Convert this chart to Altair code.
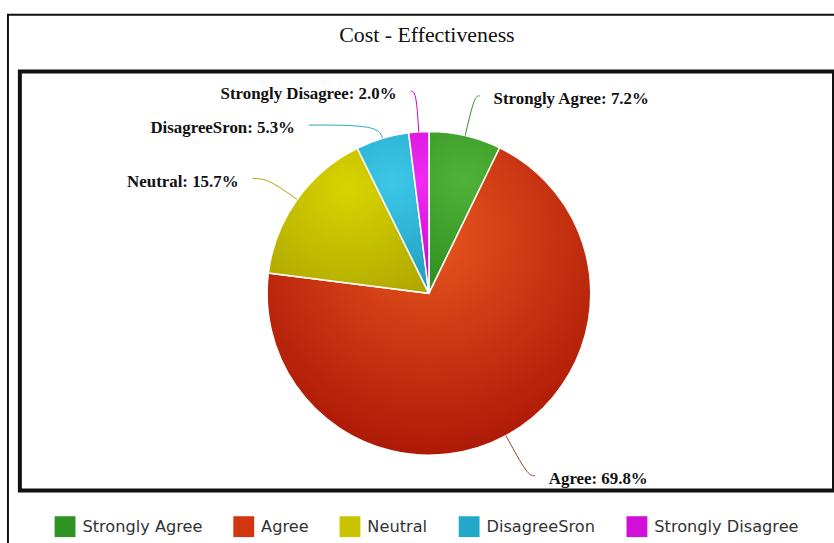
import altair as alt
import pandas as pd

# ---- data ----
categories = ["Strongly Agree", "Agree", "Neutral", "DisagreeSron", "Strongly Disagree"]
percentages = [7.2, 69.8, 15.7, 5.3, 2.0]

# ---- styles ----
legend_colors = ["#2e9323", "#d2360f", "#c9c300", "#22a9c9", "#d10fd9"]
grad_light = ["#4fb238", "#e8561f", "#d8d400", "#3cc8e6", "#f22af2"]
grad_dark = ["#2a8a1b", "#a30e02", "#aea600", "#1c98bc", "#bb00c6"]
conn_colors = ["#3a8a2a", "#a0402a", "#a8a800", "#2aa8c8", "#cc00cc"]

CX, CY, R = 412.0, 223.5, 163.0
LD = R + 38  # label distance from centre
LABEL_NUDGE_DX = {"DisagreeSron": -57, "Neutral": -8, "Agree": 5}
LABEL_NUDGE_DY = {"DisagreeSron": 26, "Agree": 10, "Neutral": 4}


def nudge_expr(d):
    expr = "0"
    for k, v in d.items():
        expr = f"datum.category === '{k}' ? {v} : ({expr})"
    return expr


df = pd.DataFrame({"category": categories, "value": percentages,
                   "order": list(range(len(categories)))})

base = alt.Chart(df).transform_window(
    cum="sum(value)", sort=[alt.SortField("order")], frame=[None, 0]
).transform_calculate(
    start="datum.cum - datum.value",
    mid="datum.cum - datum.value / 2",
)

theta_scale = alt.Scale(domain=[0, 100], range=[0, 6.283185307179586])
arc_enc = dict(
    theta=alt.Theta("start:Q", scale=theta_scale),
    theta2="cum:Q",
    x=alt.value(CX),
    y=alt.value(CY),
)

legend_arc = base.mark_arc(radius=R, stroke="white", strokeWidth=1.5).encode(
    fill=alt.Fill(
        "category:N",
        scale=alt.Scale(domain=categories, range=legend_colors),
        sort=categories,
        legend=alt.Legend(
            orient="none", legendX=35, legendY=448, direction="horizontal",
            title=None, symbolType="square", symbolSize=441, symbolStrokeWidth=0,
            labelFont="DejaVu Sans", labelFontSize=16.3, labelColor="#333333",
            columnPadding=31, labelOffset=7, padding=0,
        ),
    ),
    **arc_enc,
)

grad_layers = []
for i, cat in enumerate(categories):
    g = alt.Gradient(
        gradient="radial",
        stops=[alt.GradientStop(color=grad_light[i], offset=0),
               alt.GradientStop(color=grad_dark[i], offset=1)],
        x1=0.5, y1=0.3, r1=0, x2=0.5, y2=0.3, r2=0.8,
    )
    grad_layers.append(
        base.transform_filter(alt.datum.category == cat)
        .mark_arc(radius=R, stroke="white", strokeWidth=1.5, fill=g)
        .encode(**arc_enc)
    )

geo = base.transform_calculate(
    a="datum.mid / 100 * 2 * PI",
).transform_calculate(
    side="sin(datum.a) >= 0 ? 1 : -1",
    ndx=nudge_expr(LABEL_NUDGE_DX),
    ndy=nudge_expr(LABEL_NUDGE_DY),
).transform_calculate(
    ly=f"{CY} - {LD} * cos(datum.a) + datum.ndy",
    lx=f"{CX} + {LD} * sin(datum.a) + datum.side * 20 + datum.ndx",
    label="datum.category + ': ' + format(datum.value, '.1f') + '%'",
)

lines = geo.transform_calculate(
    pts="[0, 1, 2]"
).transform_flatten(["pts"]).transform_calculate(
    rc=f"max({R + 6}, ({CY} - (datum.ly - 3)) / cos(datum.a))",
).transform_calculate(
    px=f"datum.pts == 0 ? {CX} + {R} * sin(datum.a) : (datum.pts == 1 ? {CX} + datum.rc * sin(datum.a) : datum.lx - datum.side * 14)",
    py=f"datum.pts == 0 ? {CY} - {R} * cos(datum.a) : datum.ly - 3",
).mark_line(interpolate="basis", strokeWidth=1).encode(
    x=alt.X("px:Q", scale=None, axis=None),
    y=alt.Y("py:Q", scale=None, axis=None),
    detail="category:N",
    order="pts:Q",
    stroke=alt.Stroke("category:N",
                      scale=alt.Scale(domain=categories, range=conn_colors),
                      legend=None),
)

text_common = dict(font="Liberation Serif", fontWeight="bold", fontSize=17,
                   color="#111111", baseline="middle")
labels_right = geo.transform_filter("datum.side > 0").mark_text(
    align="left", **text_common
).encode(
    x=alt.X("lx:Q", scale=None, axis=None),
    y=alt.Y("ly:Q", scale=None, axis=None),
    text="label:N",
)
labels_left = geo.transform_filter("datum.side < 0").mark_text(
    align="right", **text_common
).encode(
    x=alt.X("lx:Q", scale=None, axis=None),
    y=alt.Y("ly:Q", scale=None, axis=None),
    text="label:N",
)

frame = alt.Chart(alt.Data(values=[{"k": 1}])).mark_rect(
    fill="transparent", stroke="#111111", strokeWidth=2
).encode(
    x=alt.value(-12), x2=alt.value(900), y=alt.value(-57), y2=alt.value(650)
)

chart = alt.layer(
    frame, legend_arc, *grad_layers, lines, labels_right, labels_left
).resolve_scale(
    theta="shared"
).properties(
    width=820,
    height=422,
    padding={"left": 20, "top": 70, "right": 0, "bottom": 51},
    autosize="none",
    background="white",
    title=alt.TitleParams(
        "Cost - Effectiveness", font="Liberation Serif", fontSize=22,
        fontWeight="normal", color="#111111", frame="group", anchor="middle",
        offset=28, baseline="alphabetic", dy=78,
    ),
).configure_view(stroke="#111111", strokeWidth=4)

chart.save("out.html", embed_options={"renderer": "svg", "actions": False})
